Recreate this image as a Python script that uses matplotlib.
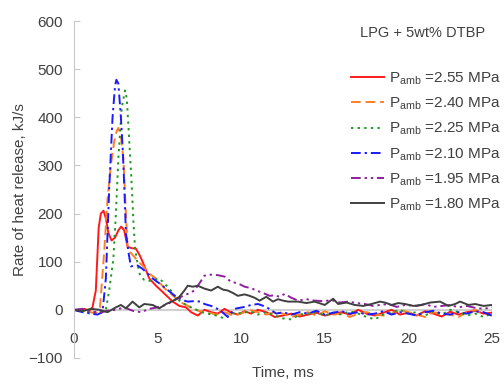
import numpy as np
import matplotlib
matplotlib.use("Agg")
import matplotlib.pyplot as plt

# ----------------------
# DATA
# ----------------------
labels = ["2.55", "2.40", "2.25", "2.10", "1.95", "1.80"]

t_255 = [0, 0.3, 0.6, 0.9, 1.1, 1.3, 1.47, 1.6, 1.76, 1.9, 2.05, 2.24, 2.45, 2.65, 2.82, 3.0,
         3.2, 3.45, 3.7, 3.9, 4.1, 4.5, 4.9, 5.3, 5.9, 6.3, 6.7, 7.0, 7.4, 7.8, 8.2, 8.6, 9.0,
         9.4, 9.8, 10.2, 10.6, 11.0, 11.5, 12.0, 12.5, 13.0, 13.5, 14, 14.5, 15, 15.5, 16,
         16.5, 17, 17.5, 18, 18.5, 19, 19.5, 20, 20.5, 21, 21.5, 22, 22.5, 23, 23.5, 24, 24.5, 25]
v_255 = [0, -3, 2, -2, 5, 40, 170, 200, 206, 190, 160, 144, 150, 165, 173, 165,
         131, 128, 127, 115, 100, 65, 50, 37, 17, 8, 5, -5, -12, 0, -5, -8, 2,
         -6, -10, -3, -8, 0, -5, -15, -12, -8, -14, -10, -6, -12, -8, -5,
         -10, 0, -8, -12, -6, 0, -10, -6, -12, -3, -8, -14, -4, -10, -5, -2, -8, -6]

t_240 = [0, 0.5, 1.0, 1.3, 1.55, 1.8, 2.0, 2.2, 2.4, 2.55, 2.65, 2.8, 2.95, 3.1, 3.2, 3.35,
         3.6, 3.9, 4.1, 4.5, 4.9, 5.4, 5.9, 6.4, 7.0, 7.5, 8.0, 8.5, 9.0, 9.5, 10.0, 10.5,
         11, 11.5, 12, 12.5, 13, 13.5, 14, 14.5, 15, 15.5, 16, 16.5, 17, 17.5, 18, 18.5,
         19, 19.5, 20, 20.5, 21, 21.5, 22, 22.5, 23, 23.5, 24, 24.5, 25]
v_240 = [0, -2, -5, -8, 5, 120, 230, 300, 350, 372, 378, 360, 315, 200, 133, 120,
         110, 98, 92, 75, 65, 45, 30, 15, 5, -3, -5, -10, -5, -12, -8, 0,
         -5, -10, -5, -8, -15, -10, -5, -12, -3, -10, -8, -15, -8, -5, -10, -12,
         -8, 0, -5, -10, -15, -5, -8, -10, -15, -5, 0, -8, -12]

t_225 = [0, 0.5, 1.0, 1.5, 1.9, 2.1, 2.35, 2.5, 2.65, 2.85, 3.05, 3.15, 3.25, 3.35, 3.45,
         3.55, 3.65, 3.8, 3.95, 4.2, 4.5, 4.8, 5.1, 5.4, 5.7, 6.0, 6.3, 6.8, 7.2, 7.6, 8.0,
         8.5, 9.0, 9.3, 9.7, 10.0, 10.5, 11, 11.5, 12, 12.5, 13, 13.5, 14, 14.5, 15, 15.5,
         16, 16.5, 17, 17.5, 18, 18.5, 19, 19.5, 20, 20.5, 21, 21.5, 22, 22.5, 23, 23.5,
         24, 24.5, 25]
v_225 = [0, -3, -5, -6, 0, 40, 106, 200, 315, 420, 456, 440, 383, 320, 258,
         183, 127, 95, 71, 62, 60, 62, 65, 55, 44, 30, 19, 8, 2, -5, -8,
         -12, -18, -10, -5, -8, -3, -10, -5, -12, -18, -20, -10, -8, -5, -12, -6,
         -10, -3, -8, -15, -20, -10, -5, 0, -8, -5, -12, -3, -10, 0, -5, -12,
         -8, -15, -8]

t_210 = [0, 0.5, 1.0, 1.4, 1.7, 1.9, 2.1, 2.3, 2.45, 2.53, 2.65, 2.8, 2.9, 3.0, 3.1, 3.25,
         3.4, 3.6, 3.8, 4.1, 4.4, 4.7, 5.1, 5.5, 6.1, 6.5, 6.8, 7.2, 7.6, 7.8, 8.2, 8.7,
         9.2, 9.6, 10.2, 10.6, 11.0, 11.5, 12.1, 12.5, 13, 13.5, 14, 14.5, 15, 15.5, 16,
         16.5, 17, 17.5, 18, 18.5, 19, 19.5, 20, 20.5, 21, 21.5, 22, 22.5, 23, 23.5, 24,
         24.5, 25]
v_210 = [0, -5, -8, -10, -5, 65, 250, 400, 465, 478, 470, 400, 340, 260, 160, 120,
         90, 92, 92, 85, 75, 65, 55, 44, 27, 20, 17, 18, 17, 12, 8, 0,
         -15, 2, 6, 10, 12, 6, -8, -5, -10, -5, -8, -2, -10, -6, -3,
         -8, -5, -10, -8, -3, -10, -5, -8, -12, -5, -2, -8, -10, -5, -8, -3,
         -5, -12]

t_195 = [0, 0.5, 1.0, 1.5, 2.0, 2.5, 3.0, 3.5, 4.0, 4.5, 5.0, 5.5, 6.0, 6.4, 6.8, 7.2,
         7.5, 7.8, 8.2, 8.6, 9.0, 9.4, 9.8, 10.2, 10.6, 10.9, 11.3, 11.7, 12.0, 12.3,
         12.6, 13.0, 13.4, 13.9, 14.4, 14.9, 15.4, 15.9, 16.4, 16.9, 17.4, 17.9, 18.3,
         18.8, 19.3, 19.8, 20.5, 21, 21.5, 22, 22.5, 23, 23.5, 24, 24.5, 25]
v_195 = [0, 2, -3, -6, -2, 0, 5, -2, -5, 2, 5, 10, 20, 27, 33, 40,
         55, 71, 73, 72, 69, 58, 55, 48, 45, 40, 35, 29, 30, 27,
         33, 25, 19, 22, 19, 18, 20, 15, 17, 14, 12, 8, 10,
         12, 6, 10, 8, 12, 6, 8, 10, 5, 8, 4, 2, 5]

t_180 = [0, 0.5, 1.0, 1.5, 2.0, 2.5, 2.8, 3.1, 3.5, 3.9, 4.2, 4.7, 5.1, 5.5, 5.9, 6.3,
         6.6, 6.8, 7.1, 7.4, 7.8, 8.2, 8.6, 8.9, 9.2, 9.5, 9.8, 10.2, 10.5, 10.8, 11.1,
         11.5, 11.9, 12.2, 12.5, 12.8, 13.4, 13.9, 14.4, 15.0, 15.5, 15.8, 16.3, 16.8,
         17.3, 17.8, 18.3, 18.6, 19.0, 19.4, 19.8, 20.3, 20.8, 21.3, 21.9, 22.4, 22.8,
         23.1, 23.6, 24.0, 24.5, 25]
v_180 = [0, -3, 2, 0, -5, 5, 10, 3, 17, 5, 12, 10, 3, 12, 18, 27,
         40, 50, 48, 50, 44, 40, 48, 42, 40, 35, 29, 32, 29, 25, 19,
         27, 17, 22, 19, 17, 17, 14, 17, 10, 23, 12, 15, 10,
         8, 12, 17, 15, 10, 14, 12, 8, 10, 15, 17, 8, 12,
         17, 10, 12, 8, 10]

x_ticks = [0, 5, 10, 15, 20, 25]
y_ticks = [-100, 0, 100, 200, 300, 400, 500, 600]

# ----------------------
# STYLE
# ----------------------
txt = "#404040"
plt.rcParams["font.family"] = "Liberation Sans"
plt.rcParams["mathtext.fontset"] = "custom"
plt.rcParams["mathtext.rm"] = "Liberation Sans"
plt.rcParams["font.size"] = 11

series = [
    (t_255, v_255, "#ff1a1a", "-"),
    (t_240, v_240, "#ff7f27", (0, (5, 2.5))),
    (t_225, v_225, "#1f9a1f", (0, (1.2, 2.2))),
    (t_210, v_210, "#1a1aff", (0, (5, 2, 1.2, 2))),
    (t_195, v_195, "#8e1f9e", (0, (5, 2, 1.2, 2, 1.2, 2))),
    (t_180, v_180, "#404040", "-"),
]

# ----------------------
# PLOT
# ----------------------
fig = plt.figure(figsize=(5.04, 3.84), dpi=100)
ax = fig.add_axes([0.147, 0.068, 0.829, 0.877])

ax.axhline(0, color="#d0d0d0", lw=1.5, zorder=0)
for (t, v, c, ls), lab in zip(series, labels):
    ax.plot(t, v, color=c, ls=ls, lw=1.4,
            label=r"$\mathrm{P_{amb}}$ =" + lab + " MPa")

ax.set_xlim(0, 25)
ax.set_ylim(-100, 600)
ax.set_xticks(x_ticks)
ax.set_yticks(y_ticks)

for s in ["top", "right"]:
    ax.spines[s].set_visible(False)
ax.spines["left"].set_color("#c8c8c8")
ax.spines["bottom"].set_position(("data", 0))
ax.spines["bottom"].set_visible(False)
ax.tick_params(axis="y", direction="in", length=4, color="#c8c8c8", labelcolor=txt, pad=8)
ax.tick_params(axis="x", length=0, labelcolor=txt, pad=16)

fig.text(283 / 504, 1 - 373 / 384, "Time, ms", ha="center", va="center", color=txt)
ax.set_ylabel("Rate of heat release, kJ/s", color=txt, labelpad=1)

ax.text(0.833, 0.964, "LPG + 5wt% DTBP", transform=ax.transAxes, ha="center",
        va="center", color=txt, fontsize=10.5)
leg = ax.legend(loc="upper right", bbox_to_anchor=(1.036, 0.872), frameon=False,
                handlelength=2.2, handletextpad=0.3, labelspacing=0.58,
                fontsize=11, labelcolor=txt, borderaxespad=0)

fig.savefig("out.png", dpi=100)
